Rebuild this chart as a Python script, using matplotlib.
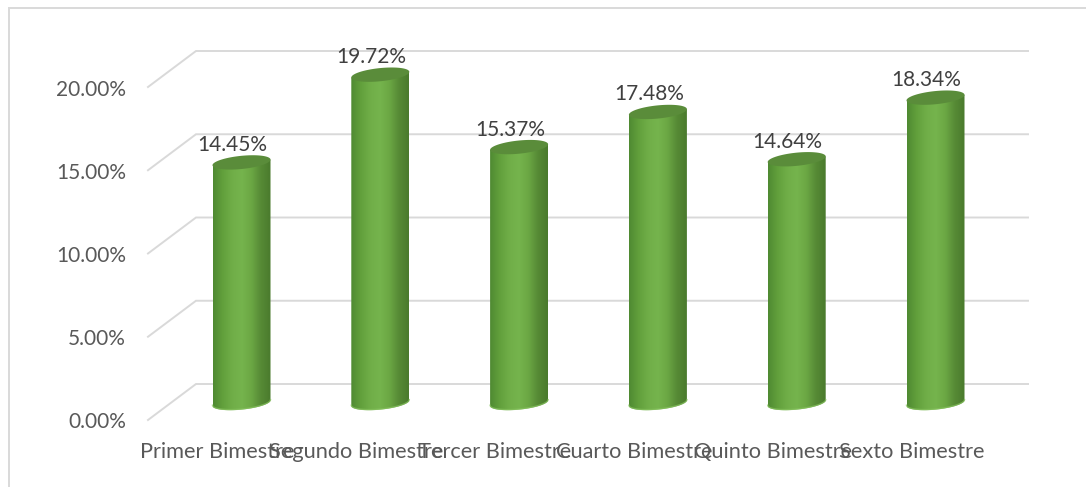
#!/usr/bin/env python3
"""3D-look cylinder column chart, percentages per bimester."""

import numpy as np
import matplotlib
matplotlib.use("Agg")
import matplotlib.pyplot as plt
from matplotlib.colors import LinearSegmentedColormap
from matplotlib.patches import PathPatch, Rectangle
from matplotlib.path import Path

plt.rcParams["font.family"] = ["Lato", "DejaVu Sans"]

categories = [
    "Primer Bimestre",
    "Segundo Bimestre",
    "Tercer Bimestre",
    "Cuarto Bimestre",
    "Quinto Bimestre",
    "Sexto Bimestre",
]
values = [14.45, 19.72, 15.37, 17.48, 14.64, 18.34]
y_ticks = [0, 5, 10, 15, 20]

W, H = 1086, 487
PX_X0, PX_DX = 241.5, 138.8   # pixel of category 0, pixels per category
PX_Y0, PX_DY = 403.0, 16.65   # pixel of 0 %, pixels per 1 %


def dx(px):
    return px / PX_DX


def dy(px):
    return px / PX_DY


fig = plt.figure(figsize=(W / 100, H / 100), dpi=100)
ax = fig.add_axes([0, 0, 1, 1])
ax.set_xlim(-PX_X0 / PX_DX, (W - PX_X0) / PX_DX)
ax.set_ylim((PX_Y0 - H) / PX_DY, PX_Y0 / PX_DY)
ax.axis("off")

# chart border, only left and top are visible in the crop
ax.add_patch(Rectangle((8.5 / W, -0.5), 1.5, 0.5 + (H - 7.5) / H, transform=ax.transAxes,
                       fill=False, ec="#D9D9D9", lw=1.4, clip_on=False))

# floor/back wall gridlines
x_front = dx(148 - PX_X0)
x_back = dx(196 - PX_X0)
x_end = dx(1028 - PX_X0)
for v in y_ticks:
    ax.plot([x_front, x_back, x_end], [v + dy(-17), v + dy(19), v + dy(19)],
            color="#D9D9D9", lw=1.4, solid_joinstyle="miter", zorder=1)
    ax.text(dx(126 - PX_X0), v + dy(-19.5), f"{v:.2f}%", ha="right", va="center",
            fontsize=15, color="#595959")

body_cmap = LinearSegmentedColormap.from_list(
    "cyl", ["#4F8A32", "#62A03C", "#70AE48", "#75B44D", "#6BA744", "#568A35", "#4A7A2D"]
)
grad = np.linspace(0, 1, 128).reshape(1, -1)

t_low = np.linspace(np.pi, 2 * np.pi, 60)
t_all = np.linspace(0, 2 * np.pi, 120)


def rim(xc, v, t):
    # tilted ellipse, right side sits a little higher
    return (xc + dx(29) * np.cos(t),
            v + dy(2.8 * np.cos(t) + 6.6 * np.sin(t)))


for i, (name, val) in enumerate(zip(categories, values)):
    xb, yb = rim(i, 0, t_low)
    verts = [(i - dx(29), val + dy(-2.8))] + list(zip(xb, yb)) + [(i + dx(29), val + dy(2.8))]
    verts.append(verts[0])
    clip = PathPatch(Path(verts, closed=True), transform=ax.transData, fc="none", ec="none")
    ax.add_patch(clip)
    im = ax.imshow(grad, cmap=body_cmap, aspect="auto", zorder=3,
                   extent=(i - dx(29), i + dx(29), -1, val + 1))
    im.set_clip_path(clip)
    # lighter glow along the bottom edge
    ax.plot(xb, yb + dy(0.6), color="#86C25E", lw=1.0, alpha=0.7, zorder=3.5)

    xt, yt = rim(i, val, t_all)
    ax.fill(xt, yt, color="#5A8C3A", lw=0, zorder=4)

    ax.text(i + dx(-9), val + dy(17.5), f"{val:.2f}%", ha="center", va="center",
            fontsize=15, color="#404040", zorder=5)
    ax.text(i + dx(-24), dy(-49), name, ha="center", va="center",
            fontsize=15.7, color="#595959", zorder=5)

# imshow resets limits
ax.set_xlim(-PX_X0 / PX_DX, (W - PX_X0) / PX_DX)
ax.set_ylim((PX_Y0 - H) / PX_DY, PX_Y0 / PX_DY)

fig.savefig("out.png", dpi=100, facecolor="white")
